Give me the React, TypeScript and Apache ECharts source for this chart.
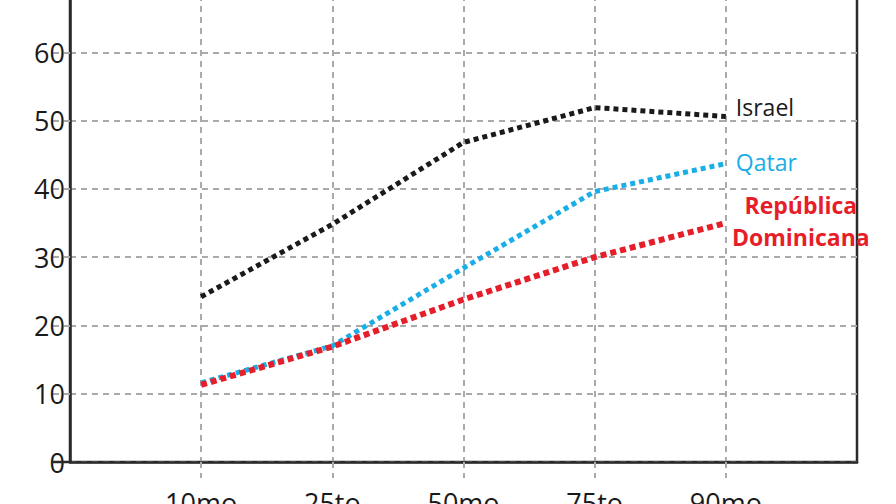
import React, { useEffect, useRef } from "react";
import * as echarts from "echarts";

const categories = ["", "10mo", "25to", "50mo", "75to", "90mo", ""];
const israel = [null, 24.2, 34.8, 46.8, 51.9, 50.6, null];
const qatar = [null, 11.6, 17.0, 28.4, 39.6, 43.7, null];
const dominicana = [null, 11.3, 16.9, 23.8, 30.0, 35.0, null];
const yTicks = [0, 10, 20, 30, 40, 50, 60, 70];

export default function App() {
  const ref = useRef<HTMLDivElement>(null);
  useEffect(() => {
    const chart = echarts.init(ref.current!, null, { renderer: "svg" });
    const font = "'Open Sans', 'Noto Sans', sans-serif";
    chart.setOption({
      animation: false,
      backgroundColor: "#ffffff",
      grid: {
        left: 70,
        right: 39,
        top: 4,
        bottom: 42,
        outerBoundsMode: "none",
        containLabel: false,
        show: true,
        borderColor: "#2a2a2a",
        borderWidth: 2.5,
      },
      xAxis: {
        type: "category",
        data: categories,
        boundaryGap: false,
        axisLine: { lineStyle: { color: "#2a2a2a", width: 2.5 } },
        axisTick: {
          length: 16,
          interval: (i: number, v: string) => v !== "",
          lineStyle: { color: "#aaaaaa", width: 2, type: [6, 5] },
        },
        axisLabel: {
          interval: 0,
          margin: 27,
          fontSize: 27,
          color: "#1a1a1a",
          fontFamily: font,
        },
        splitLine: {
          show: true,
          interval: (i: number, v: string) => v !== "",
          lineStyle: { color: "#aaaaaa", width: 2, type: [6, 5] },
        },
      },
      yAxis: {
        type: "value",
        min: yTicks[0],
        max: yTicks[yTicks.length - 1],
        interval: 10,
        axisLine: { show: true, lineStyle: { color: "#2a2a2a", width: 2.5 } },
        axisTick: {
          show: true,
          length: 18,
          lineStyle: { color: "#aaaaaa", width: 2, type: [6, 5] },
        },
        axisLabel: {
          margin: 5,
          fontSize: 27,
          color: "#1a1a1a",
          fontFamily: font,
        },
        splitLine: {
          show: true,
          lineStyle: { color: "#aaaaaa", width: 2, type: [6, 5] },
        },
      },
      series: [
        {
          name: "Israel",
          type: "line",
          data: israel,
          symbol: "none",
          lineStyle: { color: "#1a1a1a", width: 5, type: [5, 4] },
          endLabel: {
            show: true,
            formatter: "Israel",
            color: "#1a1a1a",
            fontSize: 23,
            fontFamily: font,
            distance: 10,
            offset: [0, -9],
          },
          z: 3,
        },
        {
          name: "Qatar",
          type: "line",
          data: qatar,
          symbol: "none",
          lineStyle: { color: "#1aaee6", width: 5, type: [5, 4] },
          endLabel: {
            show: true,
            formatter: "Qatar",
            color: "#1aaee6",
            fontSize: 23,
            fontFamily: font,
            distance: 10,
            offset: [0, -2],
          },
          z: 2,
        },
        {
          name: "República Dominicana",
          type: "line",
          data: dominicana,
          symbol: "none",
          lineStyle: { color: "#e61e2a", width: 6, type: [6, 4] },
          endLabel: {
            show: true,
            formatter: "República\nDominicana",
            color: "#e61e2a",
            fontSize: 23,
            fontWeight: "bold",
            fontFamily: font,
            align: "center",
            lineHeight: 32,
            distance: 8,
            offset: [67, -2],
          },
          z: 4,
        },
      ],
    });
    const p = chart.convertToPixel({ gridIndex: 0 }, [0, 0]) as number[];
    chart.setOption({
      graphic: [
        {
          type: "line",
          shape: { x1: p[0] - 18, y1: p[1], x2: p[0], y2: p[1] },
          style: { stroke: "#2a2a2a", lineWidth: 2.5 },
          z: 10,
        },
      ],
    });
    return () => chart.dispose();
  }, []);
  return <div ref={ref} style={{ width: 896, height: 524, position: "absolute", left: 0, top: -20 }} />;
}
